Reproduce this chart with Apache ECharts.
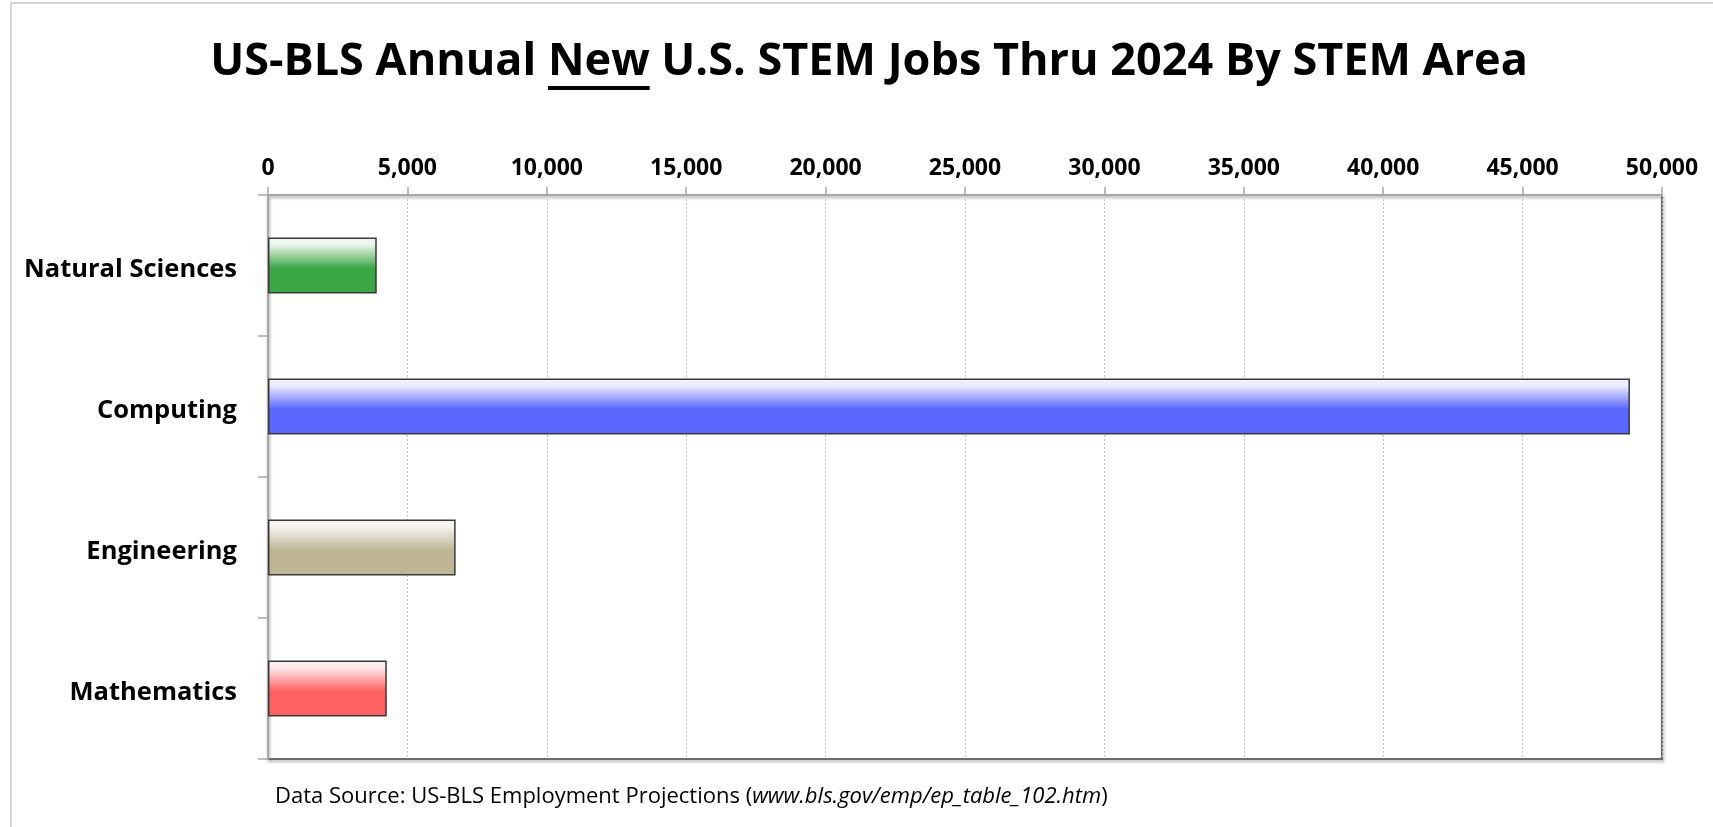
<!DOCTYPE html>
<html>
<head>
<meta charset="utf-8">
<script src="https://cdn.jsdelivr.net/npm/echarts@6/dist/echarts.min.js"></script>
<style>
html,body{margin:0;padding:0;background:#fff;}
#chart{width:1713px;height:827px;}
</style>
</head>
<body>
<div id="chart"></div>
<script>
const categories = ['Natural Sciences', 'Computing', 'Engineering', 'Mathematics'];
const values = [3900, 48850, 6730, 4260];
const barTopColors = ['#eef7ee', '#eeeeff', '#f6f5f0', '#ffecec'];
const barColors = ['#3ba644', '#5966ff', '#bdb594', '#ff6161'];
const xTicks = { min: 0, max: 50000, interval: 5000 };
const titleBefore = 'US-BLS Annual ';
const titleUnderlined = 'New';
const titleAfter = ' U.S. STEM Jobs Thru 2024 By STEM Area';
const sourcePrefix = 'Data Source: US-BLS Employment Projections (';
const sourceUrl = 'www.bls.gov/emp/ep_table_102.htm';
const sourceSuffix = ')';

const FONT = 'Open Sans';
const TITLE_SIZE = 45;
const TITLE_CENTER_X = 869;
const TITLE_TOP = 40;

// measure title pieces to place the underline beneath "New"
const mctx = document.createElement('canvas').getContext('2d');
mctx.font = 'bold ' + TITLE_SIZE + 'px "' + FONT + '"';
const wBefore = mctx.measureText(titleBefore).width;
const wNew = mctx.measureText(titleUnderlined).width;
const wTotal = mctx.measureText(titleBefore + titleUnderlined + titleAfter).width;
const titleX = TITLE_CENTER_X - wTotal / 2;

const chart = echarts.init(document.getElementById('chart'), null, { renderer: 'canvas' });

const data = values.map((v, i) => ({
  value: v,
  itemStyle: {
    color: new echarts.graphic.LinearGradient(0, 0, 0, 1, [
      { offset: 0, color: barTopColors[i] },
      { offset: 0.12, color: barTopColors[i] },
      { offset: 0.55, color: barColors[i] },
      { offset: 1, color: barColors[i] }
    ]),
    borderColor: '#3a3a3a',
    borderWidth: 1.5
  }
}));

chart.setOption({
  backgroundColor: '#ffffff',
  animation: false,
  grid: {
    left: 268,
    right: 51,
    top: 195,
    bottom: 68,
    show: true,
    borderColor: '#6b6b6b',
    borderWidth: 2,
    shadowColor: 'rgba(0,0,0,0.35)',
    shadowBlur: 3,
    shadowOffsetX: 1,
    shadowOffsetY: 2,
    containLabel: false
  },
  xAxis: {
    type: 'value',
    position: 'top',
    min: xTicks.min,
    max: xTicks.max,
    interval: xTicks.interval,
    axisLine: { show: true, lineStyle: { color: '#a6a6a6', width: 2 } },
    axisTick: { show: true, length: 8, lineStyle: { color: '#a6a6a6', width: 1.5 } },
    axisLabel: {
      fontFamily: FONT,
      fontWeight: 'bold',
      fontSize: 23,
      color: '#000',
      margin: 15,
      formatter: v => v.toLocaleString('en-US')
    },
    splitLine: { show: true, lineStyle: { color: '#c4c4c4', type: [2, 2], width: 1 } }
  },
  yAxis: {
    type: 'category',
    data: categories,
    inverse: true,
    axisLine: { show: true, lineStyle: { color: '#a6a6a6', width: 2 } },
    axisTick: { show: true, length: 10, lineStyle: { color: '#a6a6a6', width: 1.5 } },
    axisLabel: {
      margin: 31,
      formatter: v => '{c|' + v + '}',
      rich: {
        c: {
          fontFamily: FONT,
          fontWeight: 'bold',
          fontSize: 25.5,
          color: '#000',
          padding: [8, 0, 0, 0]
        }
      }
    },
    splitLine: { show: false }
  },
  series: [{
    type: 'bar',
    data: data,
    barWidth: 56,
    z: 3
  }],
  graphic: [
    {
      type: 'rect',
      silent: true,
      z: -10,
      shape: { x: 11, y: 3, width: 1800, height: 900 },
      style: { fill: 'none', stroke: '#d4d4d4', lineWidth: 2 }
    },
    {
      type: 'text',
      silent: true,
      x: titleX,
      y: TITLE_TOP,
      style: {
        text: titleBefore + titleUnderlined + titleAfter,
        font: 'bold ' + TITLE_SIZE + 'px "' + FONT + '"',
        fill: '#000',
        textVerticalAlign: 'top'
      }
    },
    {
      type: 'line',
      silent: true,
      shape: { x1: titleX + wBefore, y1: 88, x2: titleX + wBefore + wNew, y2: 88 },
      style: { stroke: '#000', lineWidth: 4 }
    },
    {
      type: 'text',
      silent: true,
      left: 275,
      top: 786,
      style: {
        text: sourcePrefix + '{i|' + sourceUrl + '}' + sourceSuffix,
        fontFamily: FONT,
        fontSize: 22,
        fill: '#000',
        rich: {
          i: { fontFamily: FONT, fontStyle: 'italic', fontSize: 22, fill: '#000' }
        }
      }
    }
  ]
});
</script>
</body>
</html>
